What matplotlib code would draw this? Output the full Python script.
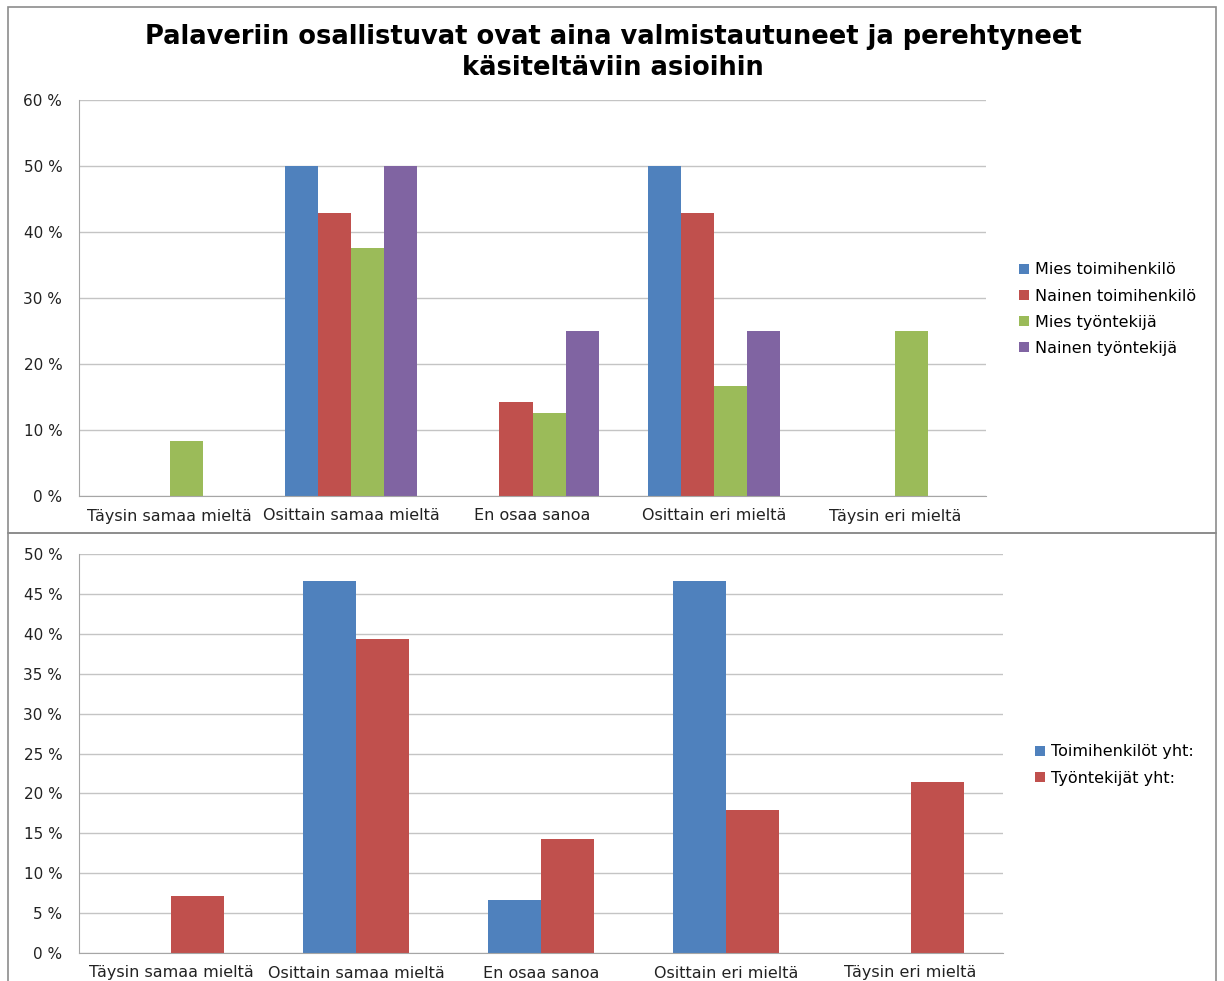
import numpy as np
import matplotlib
matplotlib.use("Agg")
import matplotlib.pyplot as plt
from matplotlib.patches import Rectangle
from matplotlib.ticker import FuncFormatter, MultipleLocator

plt.rcParams['font.family'] = ['DejaVu Sans']

# answer categories (same for both charts)
categories = ["Täysin samaa mieltä", "Osittain samaa mieltä", "En osaa sanoa",
              "Osittain eri mieltä", "Täysin eri mieltä"]

# top chart: share of answers per group (%)
mies_toimihenkilo = [0, 50.0, 0, 50.0, 0]
nainen_toimihenkilo = [0, 42.86, 14.29, 42.86, 0]
mies_tyontekija = [8.33, 37.5, 12.5, 16.67, 25.0]
nainen_tyontekija = [0, 50.0, 25.0, 25.0, 0]
top_labels = ["Mies toimihenkilö", "Nainen toimihenkilö", "Mies työntekijä", "Nainen työntekijä"]

# bottom chart: totals (%)
toimihenkilot_yht = [0, 46.67, 6.67, 46.67, 0]
tyontekijat_yht = [7.14, 39.29, 14.29, 17.86, 21.43]
bottom_labels = ["Toimihenkilöt yht:", "Työntekijät yht:"]

colors = ["#4F81BD", "#C0504D", "#9BBB59", "#8064A2"]

W, H = 1224, 981
fig = plt.figure(figsize=(W / 100, H / 100), dpi=100)

def px_axes(left, top, right, bottom):
    return fig.add_axes([left / W, 1 - bottom / H, (right - left) / W, (bottom - top) / H])

# frames around the two charts
fig.patches.append(Rectangle((8 / W, 1 - 533 / H), 1208 / W, 526 / H, transform=fig.transFigure,
                             fill=False, ec="#8c8c8c", lw=1.2))
fig.patches.append(Rectangle((8 / W, -0.02), 1208 / W, (1 - 533 / H) + 0.02, transform=fig.transFigure,
                             fill=False, ec="#8c8c8c", lw=1.2))

pct = FuncFormatter(lambda v, p: f"{v:.0f} %")

def style(ax, ymax, step):
    ax.set_ylim(0, ymax)
    ax.set_xlim(-0.5, len(categories) - 0.5)
    ax.yaxis.set_major_locator(MultipleLocator(step))
    ax.yaxis.set_major_formatter(pct)
    ax.grid(axis="y", color="#c4c4c4", lw=1)
    ax.set_axisbelow(True)
    for s in ["top", "right"]:
        ax.spines[s].set_visible(False)
    for s in ["left", "bottom"]:
        ax.spines[s].set_color("#a6a6a6")
    ax.tick_params(axis="y", length=0, pad=12, labelsize=11, colors="#222222")
    ax.tick_params(axis="x", length=0, pad=9, labelsize=11.5, colors="#222222")
    ax.set_xticks(np.arange(len(categories)))
    ax.set_xticklabels(categories)

x = np.arange(len(categories))

# top chart
ax1 = px_axes(79, 99.5, 986, 496)
w1 = 0.183
for i, (vals, lab) in enumerate(zip([mies_toimihenkilo, nainen_toimihenkilo, mies_tyontekija, nainen_tyontekija], top_labels)):
    ax1.bar(x + (i - 1.5) * w1, vals, w1, color=colors[i], label=lab)
style(ax1, 60, 10)
ax1.legend(loc="upper left", bbox_to_anchor=(1013 / W, 1 - 256 / H), bbox_transform=fig.transFigure,
           frameon=False, fontsize=11.5, handlelength=0.6, handleheight=0.6, handletextpad=0.35,
           labelspacing=0.7, borderaxespad=0)
fig.text(613 / W, 1 - 52.5 / H, "Palaveriin osallistuvat ovat aina valmistautuneet ja perehtyneet\nkäsiteltäviin asioihin",
         ha="center", va="center", fontsize=18.5, fontweight="bold", linespacing=1.25)

# bottom chart
ax2 = px_axes(79, 554, 1003, 953)
w2 = 0.287
for i, (vals, lab) in enumerate(zip([toimihenkilot_yht, tyontekijat_yht], bottom_labels)):
    ax2.bar(x + (i - 0.5) * w2, vals, w2, color=colors[i], label=lab)
style(ax2, 50, 5)
ax2.legend(loc="upper left", bbox_to_anchor=(1029 / W, 1 - 738 / H), bbox_transform=fig.transFigure,
           frameon=False, fontsize=11.5, handlelength=0.6, handleheight=0.6, handletextpad=0.35,
           labelspacing=0.7, borderaxespad=0)

fig.savefig("out.png", dpi=100)
